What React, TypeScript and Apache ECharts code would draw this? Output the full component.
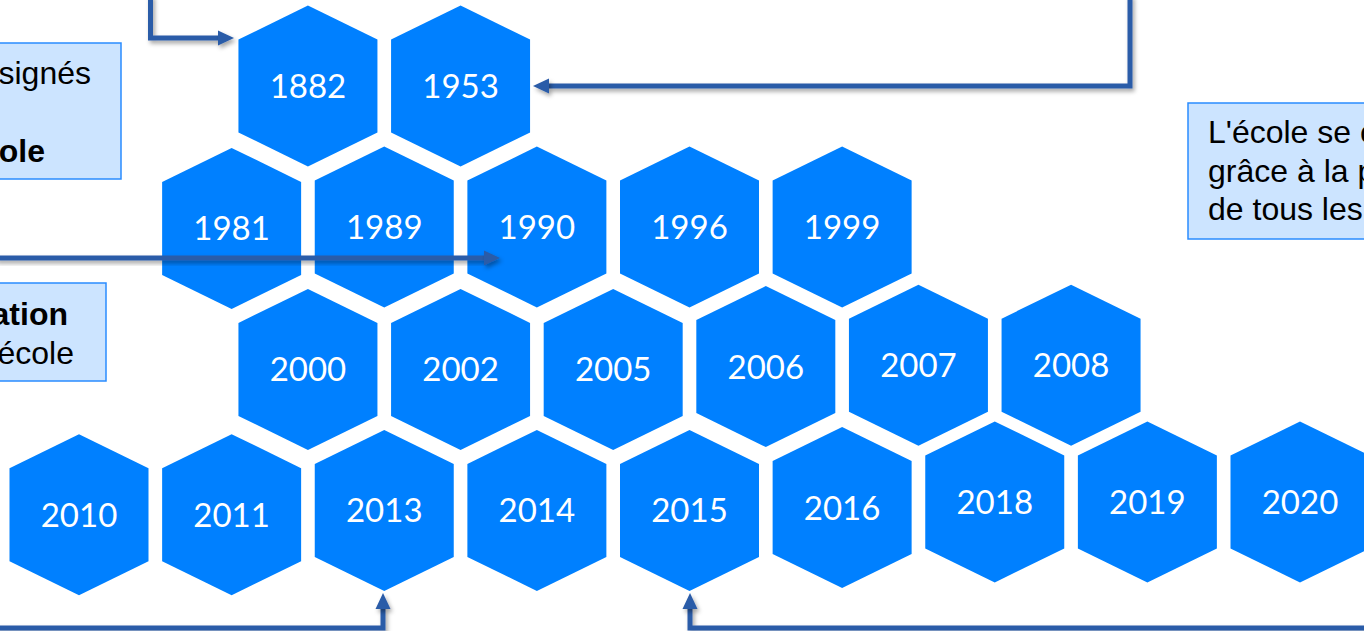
import React, { useEffect, useRef } from "react";
import * as echarts from "echarts";

// Timeline years shown in hexagons
const years = [
  "1882", "1953",
  "1981", "1989", "1990", "1996", "1999",
  "2000", "2002", "2005", "2006", "2007", "2008",
  "2010", "2011", "2013", "2014", "2015", "2016", "2018", "2019", "2020",
];
// Half-column index of each hexagon in the honeycomb
const columns = [
  3, 5,
  2, 4, 6, 8, 10,
  3, 5, 7, 9, 11, 13,
  0, 2, 4, 6, 8, 10, 12, 14, 16,
];
// Row position of each hexagon (slightly tilted rows)
const rows = [
  0, 0,
  1.01, 1, 1, 1, 1,
  2.01, 2.01, 2.01, 1.99, 1.98, 1.98,
  3.04, 3.04, 3.01, 3.01, 3.01, 2.99, 2.95, 2.95, 2.95,
];

// Text box fragments (cropped slide)
const box1Lines = ["signés", "", "ole"];
const box2Lines = ["ation", "école"];
const box3Lines = ["L'école se c", "grâce à la p", "de tous les"];

const HEX_PATH =
  "path://M69.5,0 L139,34 L139,127 L69.5,161 L0,127 L0,34 Z";
const ARROW = "#2B5BA8";
const BOX_FILL = "#CCE4FF";
const BOX_STROKE = "#2A8CFF";

const shadow = {
  shadowBlur: 4,
  shadowColor: "rgba(0,0,0,0.35)",
  shadowOffsetX: 2,
  shadowOffsetY: 3,
};

function arrow(points: number[][], head: number[][]) {
  return [
    {
      type: "polyline",
      z: 20,
      shape: { points },
      style: { stroke: ARROW, lineWidth: 5, fill: "none", lineJoin: "miter", ...shadow },
    },
    {
      type: "polygon",
      z: 20,
      shape: { points: head },
      style: { fill: ARROW, ...shadow },
    },
  ];
}

function txt(text: string, x: number, y: number, align: string, bold = false) {
  return {
    type: "text",
    z: 15,
    style: {
      text,
      x,
      y,
      fill: "#000",
      font: `${bold ? "bold " : ""}32px "Liberation Sans", Arial, sans-serif`,
      textAlign: align,
      textVerticalAlign: "middle",
      align,
      verticalAlign: "middle",
    },
  };
}

export default function App() {
  const ref = useRef<HTMLDivElement>(null);
  useEffect(() => {
    if (!ref.current) return;
    const chart = echarts.init(ref.current, undefined, { renderer: "svg" });
    const data = years.map((y, i) => ({ name: y, value: [columns[i], rows[i]] }));

    const graphic: any[] = [
      // boxes
      {
        type: "rect",
        z: 10,
        shape: { x: -10, y: 43, width: 131, height: 136 },
        style: { fill: BOX_FILL, stroke: BOX_STROKE, lineWidth: 1.5 },
      },
      {
        type: "rect",
        z: 10,
        shape: { x: -10, y: 283, width: 116, height: 98 },
        style: { fill: BOX_FILL, stroke: BOX_STROKE, lineWidth: 1.5 },
      },
      {
        type: "rect",
        z: 10,
        shape: { x: 1188, y: 103, width: 200, height: 136 },
        style: { fill: BOX_FILL, stroke: BOX_STROKE, lineWidth: 1.5 },
      },
      txt(box1Lines[0], 91, 73, "right"),
      txt(box1Lines[2], 45, 151, "right", true),
      txt(box2Lines[0], 68, 314, "right", true),
      txt(box2Lines[1], 74, 353, "right"),
      txt(box3Lines[0], 1208, 132, "left"),
      txt(box3Lines[1], 1208, 171, "left"),
      txt(box3Lines[2], 1208, 209, "left"),
      ...arrow([[150.5, -5], [150.5, 38], [219, 38]], [[218, 30.5], [234, 38], [218, 45.5]]),
      ...arrow([[1130, -5], [1130, 86], [548, 86]], [[549, 78.5], [533, 86], [549, 93.5]]),
      // straight arrow across 1981/1989 (drawn as a bar so its shadow filter has height)
      {
        type: "rect",
        z: 20,
        shape: { x: -5, y: 255.5, width: 490, height: 5 },
        style: { fill: ARROW, ...shadow },
      },
      {
        type: "polygon",
        z: 20,
        shape: { points: [[484, 250.5], [500, 258], [484, 265.5]] },
        style: { fill: ARROW, ...shadow },
      },
      ...arrow([[-5, 628], [383, 628], [383, 608]], [[375.5, 609], [383, 593], [390.5, 609]]),
      ...arrow([[1370, 628], [690, 628], [690, 608]], [[682.5, 609], [690, 593], [697.5, 609]]),
    ];

    const pxPerCol = 1221 / 16;
    const xMin = -79 / pxPerCol;
    const xMax = xMin + 1364 / pxPerCol;
    const pxPerRow = 141;
    const yMin = -86 / pxPerRow;
    const yMax = yMin + 631 / pxPerRow;

    chart.setOption({
      animation: false,
      backgroundColor: "#ffffff",
      grid: { left: 0, right: 0, top: 0, bottom: 0, containLabel: false },
      xAxis: { type: "value", min: xMin, max: xMax, show: false },
      yAxis: { type: "value", min: yMin, max: yMax, inverse: true, show: false },
      series: [
        {
          type: "scatter",
          symbol: HEX_PATH,
          symbolSize: [139, 161],
          symbolKeepAspect: false,
          itemStyle: { color: "#0080FF", opacity: 1 },
          label: {
            show: true,
            position: "inside",
            formatter: "{b}",
            color: "#ffffff",
            fontFamily: "Lato, 'Open Sans', sans-serif",
            fontSize: 33,
            offset: [0, -1],
          },
          emphasis: { disabled: true },
          data,
        },
      ],
      graphic,
    });
    return () => chart.dispose();
  }, []);
  return (
    <div
      ref={ref}
      style={{ position: "absolute", left: 0, top: 0, width: 1364, height: 631 }}
    />
  );
}
